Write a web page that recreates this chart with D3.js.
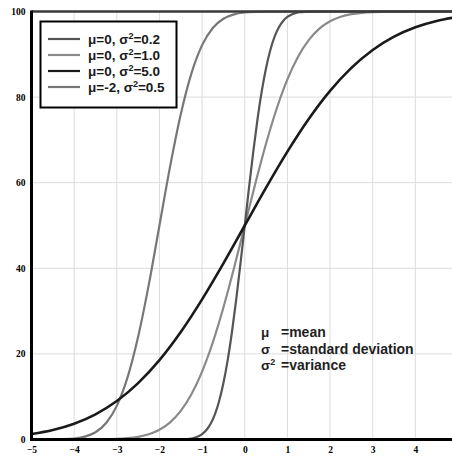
<!DOCTYPE html>
<html><head><meta charset="utf-8">
<script src="https://cdn.jsdelivr.net/npm/d3@7"></script>
<style>body{margin:0;background:#fff}svg{display:block}</style>
</head><body>
<svg id="c" width="452" height="457"></svg>
<script>
// Data (cumulative %, x value)
const xTicks = [-5,-4,-3,-2,-1,0,1,2,3,4];
const yTicks = [0,20,40,60,80,100];

const s02X = [-5,-2,-1.75,-1.5,-1.4,-1.3,-1.2,-1.1,-1.0,-0.9,-0.8,-0.7,-0.6,-0.5,-0.4,-0.3,-0.2,-0.1,0,0.1,0.2,0.3,0.4,0.5,0.6,0.7,0.8,0.9,1.0,1.1,1.2,1.3,1.4,1.5,1.75,2,5];
const s02Y = [0,0,0.005,0.04,0.09,0.18,0.36,0.70,1.27,2.21,3.68,5.88,8.99,13.18,18.55,25.12,32.74,41.15,50,58.85,67.26,74.88,81.45,86.82,91.01,94.12,96.32,97.79,98.73,99.30,99.64,99.82,99.91,99.96,99.995,100,100];

const s10X = [-5,-4,-3.75,-3.5,-3.25,-3,-2.75,-2.5,-2.25,-2,-1.75,-1.5,-1.25,-1,-0.75,-0.5,-0.25,0,0.25,0.5,0.75,1,1.25,1.5,1.75,2,2.25,2.5,2.75,3,3.25,3.5,3.75,4,5];
const s10Y = [0,0.003,0.009,0.02,0.06,0.13,0.30,0.62,1.22,2.28,4.01,6.68,10.56,15.87,22.66,30.85,40.13,50,59.87,69.15,77.34,84.13,89.44,93.32,95.99,97.72,98.78,99.38,99.70,99.87,99.94,99.98,99.991,99.997,100];

const s50X = [-5,-4.5,-4,-3.5,-3,-2.5,-2,-1.5,-1,-0.5,0,0.5,1,1.5,2,2.5,3,3.5,4,4.5,5];
const s50Y = [1.27,2.21,3.68,5.88,8.99,13.18,18.55,25.12,32.74,41.15,50,58.85,67.26,74.88,81.45,86.82,91.01,94.12,96.32,97.79,98.73];

const m2X = [-5,-4.5,-4.25,-4,-3.75,-3.5,-3.25,-3,-2.75,-2.5,-2.25,-2,-1.75,-1.5,-1.25,-1,-0.75,-0.5,-0.25,0,0.25,0.5,1,5];
const m2Y = [0,0.02,0.07,0.23,0.67,1.69,3.85,7.86,14.44,23.98,36.18,50,63.82,76.02,85.56,92.14,96.15,98.31,99.33,99.77,99.93,99.98,100,100];

const seriesNames = ["\u03bc=0, \u03c3|=0.2","\u03bc=0, \u03c3|=1.0","\u03bc=0, \u03c3|=5.0","\u03bc=-2, \u03c3|=0.5"];
const seriesColors = ["#555555","#8a8a8a","#1a1a1a","#777777"];
const notes = [["\u03bc","","=mean"],["\u03c3","","=standard deviation"],["\u03c3","2","=variance"]];

const svg = d3.select("#c");
const x = d3.scaleLinear().domain([-5,5]).range([31.5,458]);
const y = d3.scaleLinear().domain([0,100]).range([439.5,11.5]);

// grid
svg.append("g").selectAll("line").data(xTicks.filter(d=>d>-5)).join("line")
  .attr("x1",d=>x(d)).attr("x2",d=>x(d)).attr("y1",y(100)).attr("y2",y(0))
  .attr("stroke","#dcdcdc").attr("stroke-width",1);
svg.append("g").selectAll("line").data(yTicks.filter(d=>d>0&&d<100)).join("line")
  .attr("x1",x(-5)).attr("x2",452).attr("y1",d=>y(d)).attr("y2",d=>y(d))
  .attr("stroke","#dcdcdc").attr("stroke-width",1);

// axes labels
const xa = d3.axisBottom(x).tickValues(xTicks).tickSize(0).tickPadding(7);
const gx = svg.append("g").attr("transform",`translate(0,${y(0)})`).call(xa);
gx.select(".domain").remove();
gx.selectAll("text").attr("font-family","Liberation Serif").attr("font-weight","bold").attr("font-size",9.5).attr("fill","#000");
const ya = d3.axisLeft(y).tickValues(yTicks).tickSize(0).tickPadding(6);
const gy = svg.append("g").attr("transform",`translate(${x(-5)},0)`).call(ya);
gy.select(".domain").remove();
gy.selectAll("text").attr("font-family","Liberation Serif").attr("font-weight","bold").attr("font-size",9.5).attr("fill","#000");

// curves
const line = d3.line().x(d=>x(d[0])).y(d=>y(d[1])).curve(d3.curveMonotoneX);
const series = [[s02X,s02Y],[s10X,s10Y],[s50X,s50Y],[m2X,m2Y]];
const order = [1,3,0,2];
order.forEach(i=>{
  const pts = series[i][0].map((v,k)=>[v,series[i][1][k]]);
  svg.append("path").attr("d",line(pts)).attr("fill","none")
    .attr("stroke",seriesColors[i]).attr("stroke-width",i===2?2.6:2.2);
});

// frame
svg.append("line").attr("x1",x(-5)).attr("x2",452).attr("y1",y(100)).attr("y2",y(100))
  .attr("stroke","#3a3a3a").attr("stroke-width",2.5);
svg.append("line").attr("x1",x(-5)).attr("x2",x(-5)).attr("y1",y(100)-1).attr("y2",y(0)+1.5)
  .attr("stroke","#000").attr("stroke-width",3);
svg.append("line").attr("x1",x(-5)-1.5).attr("x2",452).attr("y1",y(0)).attr("y2",y(0))
  .attr("stroke","#000").attr("stroke-width",3);

// legend
const lg = svg.append("g");
lg.append("rect").attr("x",40.5).attr("y",21.5).attr("width",136).attr("height",86)
  .attr("fill","#fff").attr("stroke","#000").attr("stroke-width",2);
seriesNames.forEach((n,i)=>{
  const cy = 39 + i*16;
  lg.append("line").attr("x1",48).attr("x2",80).attr("y1",cy).attr("y2",cy)
    .attr("stroke",seriesColors[i]).attr("stroke-width",2.2);
  const parts = n.split("|");
  const t = lg.append("text").attr("x",88).attr("y",cy+5)
    .attr("font-family","Liberation Sans").attr("font-weight","bold").attr("font-size",13.5).attr("fill","#1a1a1a");
  t.append("tspan").text(parts[0]);
  t.append("tspan").attr("font-size",9).attr("dy",-5).text("2");
  t.append("tspan").attr("dy",5).text(parts[1]);
});

// notes
notes.forEach((n,i)=>{
  const by = 337 + i*16.5;
  const t = svg.append("text").attr("x",261).attr("y",by)
    .attr("font-family","Liberation Sans").attr("font-weight","bold").attr("font-size",13.5).attr("fill","#1f1f1f");
  t.append("tspan").text(n[0]);
  if(n[1]) t.append("tspan").attr("font-size",9).attr("dy",-5).text(n[1]);
  svg.append("text").attr("x",281).attr("y",by)
    .attr("font-family","Liberation Sans").attr("font-weight","bold").attr("font-size",14).attr("fill","#1f1f1f")
    .text(n[2]);
});
</script>
</body></html>
